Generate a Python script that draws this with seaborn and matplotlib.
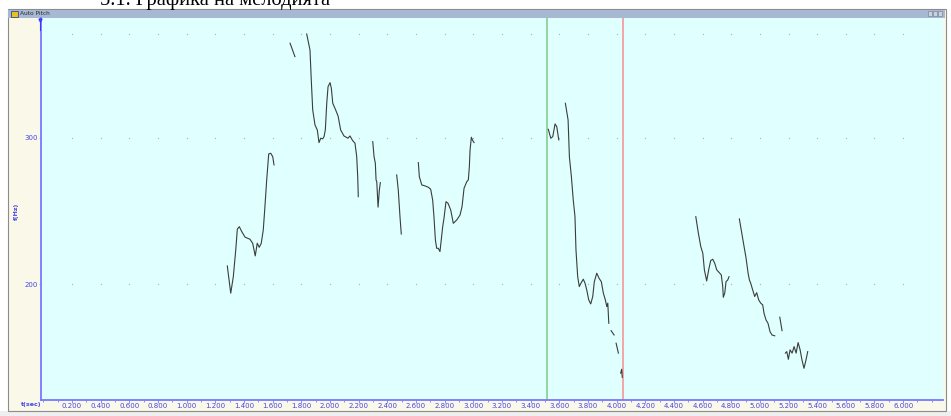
import numpy as np
import pandas as pd
import matplotlib
matplotlib.use("Agg")
import matplotlib.pyplot as plt
from matplotlib.patches import Rectangle
from matplotlib.lines import Line2D
from matplotlib.ticker import FixedLocator, FuncFormatter, NullLocator, MultipleLocator
import seaborn as sns

# ---------------------------------------------------------------------------
# Pitch contour pieces: time (s) and fundamental frequency (Hz)
# ---------------------------------------------------------------------------
a_t = [1.284, 1.308, 1.326, 1.343, 1.354, 1.368, 1.385, 1.408, 1.442, 1.461, 1.479,
       1.493, 1.507, 1.521, 1.535, 1.545, 1.559, 1.573, 1.587, 1.601, 1.610]
a_f = [210.4, 195.1, 204.2, 219.9, 232.9, 234.5, 231.3, 227.8, 226.5, 224.0, 216.3,
       224.0, 221.5, 224.0, 232.4, 245.6, 266.9, 286.8, 287.3, 284.6, 278.2]

b_t = [1.722, 1.756]
b_f = [389.5, 375.3]

c_t = [1.838, 1.861, 1.870, 1.880, 1.896, 1.912, 1.924, 1.936, 1.950, 1.959, 1.968,
       1.978, 1.987, 2.001, 2.010, 2.020, 2.038, 2.057, 2.075, 2.098, 2.126, 2.140,
       2.159, 2.175, 2.187, 2.194, 2.198]
c_f = [399.6, 382.3, 351.9, 323.9, 310.7, 306.4, 295.9, 299.5, 299.0, 300.8, 306.4,
       329.9, 345.4, 349.3, 343.9, 329.9, 324.5, 318.5, 306.4, 301.4, 299.5, 301.4,
       297.5, 295.4, 284.6, 269.3, 254.8]

d_t = [2.299, 2.308, 2.317, 2.322, 2.327, 2.336, 2.345, 2.352]
d_f = [296.7, 284.6, 279.5, 266.9, 265.6, 247.5, 259.6, 264.9]

e_t = [2.466, 2.477, 2.489, 2.498]
e_f = [270.6, 259.6, 241.1, 229.8]

f_t = [2.617, 2.624, 2.641, 2.664, 2.687, 2.703, 2.717, 2.726, 2.736, 2.745, 2.756,
       2.768, 2.777, 2.787, 2.796, 2.810, 2.824, 2.843, 2.861, 2.885, 2.908, 2.922,
       2.936, 2.955, 2.966, 2.973, 2.978, 2.987, 2.997, 3.006]
f_f = [280.0, 269.3, 263.2, 262.5, 261.5, 260.1, 252.5, 241.1, 226.1, 220.9, 220.9,
       218.9, 226.1, 234.5, 240.0, 251.3, 250.2, 245.6, 236.7, 238.9, 242.2, 247.9,
       260.8, 265.6, 266.9, 276.9, 290.0, 300.3, 297.5, 295.9]

g_t = [3.524, 3.541, 3.555, 3.571, 3.583, 3.597]
g_f = [307.0, 299.5, 300.8, 311.6, 309.2, 298.1]

h_t = [3.643, 3.662, 3.671, 3.685, 3.698, 3.710, 3.717, 3.729, 3.740, 3.752, 3.768,
       3.780, 3.792, 3.806, 3.820, 3.834, 3.845, 3.862, 3.878, 3.894, 3.908, 3.922,
       3.932, 3.939, 3.946]
h_f = [329.9, 315.0, 284.6, 269.3, 252.5, 241.1, 219.9, 204.2, 198.7, 200.6, 202.8,
       200.6, 196.9, 191.5, 189.4, 193.3, 201.4, 206.2, 203.3, 201.4, 195.1, 191.5,
       188.0, 189.8, 179.5]

i_t = [3.962, 3.983]
i_f = [175.9, 173.8]

j_t = [3.997, 4.013]
j_f = [169.9, 165.3]

k_t = [4.029, 4.036, 4.040]
k_f = [156.4, 158.1, 154.6]

l_t = [4.553, 4.571, 4.588, 4.602, 4.613, 4.629, 4.643, 4.657, 4.671, 4.685, 4.699,
       4.717, 4.731, 4.741, 4.745, 4.755, 4.764, 4.776, 4.785]
l_f = [241.1, 230.3, 221.9, 217.9, 208.1, 201.8, 208.1, 213.5, 214.3, 212.0, 208.1,
       206.5, 205.2, 198.7, 192.9, 195.1, 201.4, 202.4, 204.2]

m_t = [4.857, 4.874, 4.890, 4.904, 4.918, 4.927, 4.936, 4.950, 4.964, 4.978, 4.992,
       5.006, 5.020, 5.029, 5.043, 5.057, 5.071, 5.085, 5.104]
m_f = [239.6, 230.3, 221.9, 214.9, 206.2, 202.4, 200.6, 196.9, 193.3, 195.4, 191.5,
       189.8, 188.9, 184.6, 181.2, 179.5, 175.4, 173.8, 173.4]

n_t = [5.139, 5.155]
n_f = [182.6, 175.9]

o_t = [5.178, 5.188, 5.199, 5.211, 5.225, 5.239, 5.253, 5.267, 5.281, 5.294, 5.308,
       5.322, 5.334]
o_f = [165.3, 166.0, 162.5, 166.8, 165.3, 168.3, 165.3, 170.2, 166.8, 162.2, 158.5,
       162.2, 166.0]

# selection cursors (s)
cursor_start = 3.513
cursor_end = 4.045

# axis labelling
x_tick_values = [round(0.2 * k, 1) for k in range(1, 31)]
y_tick_values = [200, 300]
y_grid_values = [200, 300, 400]
window_title = "Auto Pitch"
caption = "5.1. Графика на мелодията"

pieces = [(a_t, a_f), (b_t, b_f), (c_t, c_f), (d_t, d_f), (e_t, e_f), (f_t, f_f),
          (g_t, g_f), (h_t, h_f), (i_t, i_f), (j_t, j_f), (k_t, k_f), (l_t, l_f),
          (m_t, m_f), (n_t, n_f), (o_t, o_f)]
frames = []
for idx, (tt, ff) in enumerate(pieces):
    frames.append(pd.DataFrame({"time": tt, "pitch": ff, "piece": idx}))
df = pd.concat(frames, ignore_index=True)

# ---------------------------------------------------------------------------
W, H = 951, 416
fig = plt.figure(figsize=(W / 100, H / 100), dpi=100)
fig.patch.set_facecolor("white")


def fx(x):
    return x / W


def fy(y):
    return 1 - y / H


def box(x0, y0, x1, y1, **kw):
    r = Rectangle((fx(x0), fy(y1)), (x1 - x0) / W, (y1 - y0) / H,
                  transform=fig.transFigure, **kw)
    fig.add_artist(r)
    return r


BLUE = "#7878ff"
TXT_BLUE = "#4646e6"

# window chrome
box(0, 411, W, H, facecolor="#efefef", edgecolor="none", zorder=-3)
box(7.5, 8.5, 945.5, 411, facecolor="#faf8e8", edgecolor="#8c8c8c", lw=0.8, zorder=-2)
box(8, 10, 945, 17.8, facecolor="#a6b8d4", edgecolor="none", zorder=-1)
box(10.5, 11, 17.5, 16.5, facecolor="#e8c020", edgecolor="#203080", lw=0.5, zorder=-1)
fig.text(fx(19.5), fy(13.9), window_title, fontsize=4.2, color="#2a2a2a",
         ha="left", va="center")
for bx in (927.5, 932.5, 937.5):
    box(bx, 11.2, bx + 4.2, 16.3, facecolor="#c9d2de", edgecolor="#707a88",
        lw=0.4, zorder=-1)

# caption above the window (its upper part runs past the top edge)
fig.text(fx(100.5), fy(5.0), caption, fontsize=14.8, color="black",
         family="Liberation Serif", ha="left", va="baseline")

# plotting area
ax = fig.add_axes([fx(40.7), fy(399.5), (943 - 40.7) / W, (399.5 - 18.3) / H])
ax.set_facecolor("#e0ffff")

# faint dotted grid
gx, gy = np.meshgrid(x_tick_values, y_grid_values)
ax.scatter(gx.ravel(), gy.ravel(), s=0.9, color="#aab8b8", linewidths=0, zorder=1)

# selection cursors
ax.axvline(cursor_start, color="#92d4a2", lw=1.4, zorder=2)
ax.axvline(cursor_end, color="#f3a6a6", lw=1.4, zorder=2)

sns.lineplot(data=df, x="time", y="pitch", units="piece", estimator=None,
             sort=False, color="#3c3c3c", lw=0.8, ax=ax, zorder=3, legend=False)

ax.set_yscale("log")
ax.set_xlim(-0.018, 6.278)
ax.set_ylim(145.4, 417.3)

ax.xaxis.set_major_locator(FixedLocator(x_tick_values))
ax.xaxis.set_minor_locator(MultipleLocator(0.1))
ax.xaxis.set_major_formatter(FuncFormatter(lambda v, p: f"{v:.3f}"))
ax.yaxis.set_major_locator(FixedLocator(y_tick_values))
ax.yaxis.set_minor_locator(NullLocator())
ax.yaxis.set_major_formatter(FuncFormatter(lambda v, p: f"{v:.0f}"))

ax.tick_params(axis="x", which="major", length=2.2, width=0.6, color=BLUE,
               labelsize=5.0, labelcolor=TXT_BLUE, pad=0.6, direction="out")
ax.tick_params(axis="x", which="minor", length=1.5, width=0.6, color=BLUE,
               direction="out")
ax.tick_params(axis="y", which="major", length=1.6, width=0.6, color="#a0a0c0",
               labelsize=5.0, labelcolor=TXT_BLUE, pad=0.6, direction="out")
ax.set_xlabel("")
ax.set_ylabel("")

for side in ("top", "right"):
    ax.spines[side].set_visible(False)
for side in ("left", "bottom"):
    ax.spines[side].set_color(BLUE)
    ax.spines[side].set_linewidth(1.3)

# axis captions
fig.text(fx(16.5), fy(211), "f(Hz)", rotation=90, fontsize=4.6, color=TXT_BLUE,
         fontweight="bold", ha="center", va="center")
fig.text(fx(31), fy(404.6), "t(sec)", fontsize=4.6, color=TXT_BLUE,
         fontweight="bold", ha="center", va="center")

# cursor marker at the top of the time axis
fig.add_artist(Line2D([fx(39.6), fx(39.6)], [fy(18.5), fy(30)], color="#3a3aff",
                      lw=0.8, transform=fig.transFigure))
fig.add_artist(Line2D([fx(39.6)], [fy(20)], marker="v", markersize=2.2,
                      color="#3a3aff", lw=0, transform=fig.transFigure))

fig.savefig("out.png", dpi=100)
